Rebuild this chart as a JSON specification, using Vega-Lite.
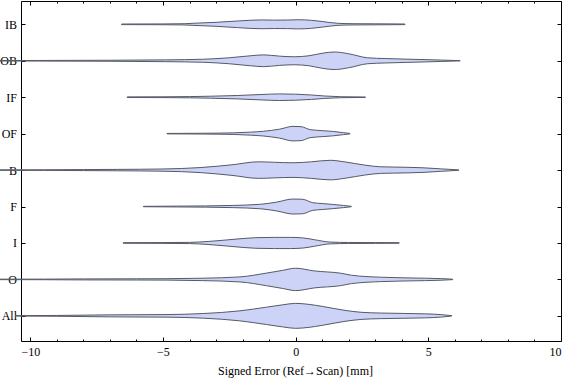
{
  "$schema": "https://vega.github.io/schema/vega-lite/v6.json",
  "width": 540,
  "height": 340,
  "autosize": {"type": "none"},
  "padding": {"left": 21, "top": 1, "right": 15, "bottom": 40},
  "background": "white",
  "config": {"view": {"stroke": null}, "font": "Liberation Serif", "axis": {"grid": false, "domainColor": "black", "tickColor": "black", "labelColor": "black", "titleColor": "black", "labelFont": "Liberation Serif", "titleFont": "Liberation Serif", "labelFontSize": 12, "titleFontSize": 12, "titleFontWeight": "normal", "domainWidth": 1, "tickWidth": 1}},
  "data": {"values": [
    {"g": "IB", "v": -6.56, "w": 0.3}, {"g": "IB", "v": -5.0, "w": 0.4}, {"g": "IB", "v": -4.2, "w": 0.6}, {"g": "IB", "v": -3.9, "w": 1.0}, {"g": "IB", "v": -3.0, "w": 2.0}, {"g": "IB", "v": -2.2, "w": 3.3}, {"g": "IB", "v": -1.3, "w": 4.4}, {"g": "IB", "v": -0.8, "w": 4.2}, {"g": "IB", "v": -0.3, "w": 4.3}, {"g": "IB", "v": 0.1, "w": 4.6}, {"g": "IB", "v": 0.6, "w": 4.0}, {"g": "IB", "v": 1.0, "w": 2.8}, {"g": "IB", "v": 1.6, "w": 1.0}, {"g": "IB", "v": 2.2, "w": 0.6}, {"g": "IB", "v": 3.0, "w": 0.5}, {"g": "IB", "v": 4.12, "w": 0.3},
    {"g": "OB", "v": -12.5, "w": 0.2}, {"g": "OB", "v": -9.7, "w": 0.3}, {"g": "OB", "v": -7.0, "w": 0.5}, {"g": "OB", "v": -4.9, "w": 0.9}, {"g": "OB", "v": -3.5, "w": 1.5}, {"g": "OB", "v": -2.5, "w": 3.0}, {"g": "OB", "v": -1.7, "w": 5.0}, {"g": "OB", "v": -1.2, "w": 5.9}, {"g": "OB", "v": -0.6, "w": 4.6}, {"g": "OB", "v": -0.05, "w": 4.0}, {"g": "OB", "v": 0.5, "w": 5.0}, {"g": "OB", "v": 1.0, "w": 7.5}, {"g": "OB", "v": 1.45, "w": 8.8}, {"g": "OB", "v": 2.0, "w": 7.0}, {"g": "OB", "v": 2.7, "w": 3.0}, {"g": "OB", "v": 3.4, "w": 2.2}, {"g": "OB", "v": 4.2, "w": 1.6}, {"g": "OB", "v": 4.8, "w": 1.2}, {"g": "OB", "v": 5.5, "w": 0.7}, {"g": "OB", "v": 6.2, "w": 0.1},
    {"g": "IF", "v": -6.35, "w": 0.3}, {"g": "IF", "v": -5.0, "w": 0.4}, {"g": "IF", "v": -4.0, "w": 0.6}, {"g": "IF", "v": -3.2, "w": 1.0}, {"g": "IF", "v": -2.2, "w": 1.7}, {"g": "IF", "v": -1.3, "w": 2.7}, {"g": "IF", "v": -0.6, "w": 3.3}, {"g": "IF", "v": 0.0, "w": 3.0}, {"g": "IF", "v": 0.6, "w": 2.2}, {"g": "IF", "v": 1.1, "w": 1.2}, {"g": "IF", "v": 1.7, "w": 0.5}, {"g": "IF", "v": 2.63, "w": 0.2},
    {"g": "OF", "v": -4.85, "w": 0.2}, {"g": "OF", "v": -3.5, "w": 0.4}, {"g": "OF", "v": -2.35, "w": 0.8}, {"g": "OF", "v": -1.7, "w": 1.5}, {"g": "OF", "v": -1.2, "w": 2.4}, {"g": "OF", "v": -0.6, "w": 4.5}, {"g": "OF", "v": -0.1, "w": 7.3}, {"g": "OF", "v": 0.2, "w": 7.0}, {"g": "OF", "v": 0.55, "w": 4.0}, {"g": "OF", "v": 1.0, "w": 3.0}, {"g": "OF", "v": 1.4, "w": 2.2}, {"g": "OF", "v": 1.8, "w": 1.0}, {"g": "OF", "v": 2.05, "w": 0.2},
    {"g": "B", "v": -12.5, "w": 0.2}, {"g": "B", "v": -9.5, "w": 0.3}, {"g": "B", "v": -8.0, "w": 0.5}, {"g": "B", "v": -6.7, "w": 0.7}, {"g": "B", "v": -5.0, "w": 1.1}, {"g": "B", "v": -3.6, "w": 2.5}, {"g": "B", "v": -2.4, "w": 5.3}, {"g": "B", "v": -1.4, "w": 8.3}, {"g": "B", "v": -0.8, "w": 7.8}, {"g": "B", "v": -0.1, "w": 7.3}, {"g": "B", "v": 0.6, "w": 8.3}, {"g": "B", "v": 1.3, "w": 9.8}, {"g": "B", "v": 1.9, "w": 8.0}, {"g": "B", "v": 2.6, "w": 5.0}, {"g": "B", "v": 3.2, "w": 3.3}, {"g": "B", "v": 4.2, "w": 2.8}, {"g": "B", "v": 4.8, "w": 2.3}, {"g": "B", "v": 5.5, "w": 1.2}, {"g": "B", "v": 6.15, "w": 0.2},
    {"g": "F", "v": -5.74, "w": 0.2}, {"g": "F", "v": -4.5, "w": 0.4}, {"g": "F", "v": -3.4, "w": 0.6}, {"g": "F", "v": -2.35, "w": 1.1}, {"g": "F", "v": -1.3, "w": 2.3}, {"g": "F", "v": -0.7, "w": 4.5}, {"g": "F", "v": -0.1, "w": 7.5}, {"g": "F", "v": 0.25, "w": 7.3}, {"g": "F", "v": 0.65, "w": 3.8}, {"g": "F", "v": 1.0, "w": 3.0}, {"g": "F", "v": 1.4, "w": 2.1}, {"g": "F", "v": 1.8, "w": 1.1}, {"g": "F", "v": 2.1, "w": 0.2},
    {"g": "I", "v": -6.5, "w": 0.3}, {"g": "I", "v": -5.0, "w": 0.4}, {"g": "I", "v": -4.0, "w": 0.6}, {"g": "I", "v": -3.3, "w": 1.5}, {"g": "I", "v": -2.4, "w": 3.5}, {"g": "I", "v": -1.5, "w": 5.3}, {"g": "I", "v": -0.8, "w": 5.6}, {"g": "I", "v": -0.2, "w": 5.6}, {"g": "I", "v": 0.3, "w": 5.0}, {"g": "I", "v": 0.7, "w": 3.3}, {"g": "I", "v": 1.3, "w": 0.9}, {"g": "I", "v": 2.0, "w": 0.5}, {"g": "I", "v": 3.0, "w": 0.4}, {"g": "I", "v": 3.9, "w": 0.3},
    {"g": "O", "v": -12.5, "w": 0.2}, {"g": "O", "v": -9.5, "w": 0.3}, {"g": "O", "v": -8.0, "w": 0.5}, {"g": "O", "v": -6.0, "w": 0.6}, {"g": "O", "v": -4.85, "w": 0.7}, {"g": "O", "v": -3.5, "w": 1.2}, {"g": "O", "v": -2.1, "w": 2.5}, {"g": "O", "v": -1.1, "w": 6.3}, {"g": "O", "v": -0.5, "w": 9.0}, {"g": "O", "v": 0.0, "w": 11.2}, {"g": "O", "v": 0.7, "w": 8.5}, {"g": "O", "v": 1.7, "w": 6.2}, {"g": "O", "v": 2.1, "w": 4.2}, {"g": "O", "v": 3.2, "w": 2.2}, {"g": "O", "v": 4.9, "w": 1.2}, {"g": "O", "v": 5.5, "w": 0.8}, {"g": "O", "v": 5.92, "w": 0.2},
    {"g": "All", "v": -10.56, "w": 0.2}, {"g": "All", "v": -9.0, "w": 0.4}, {"g": "All", "v": -7.0, "w": 1.0}, {"g": "All", "v": -4.85, "w": 1.3}, {"g": "All", "v": -3.5, "w": 2.3}, {"g": "All", "v": -2.1, "w": 5.0}, {"g": "All", "v": -1.1, "w": 8.7}, {"g": "All", "v": -0.5, "w": 11.0}, {"g": "All", "v": 0.0, "w": 12.5}, {"g": "All", "v": 0.5, "w": 11.5}, {"g": "All", "v": 1.0, "w": 9.5}, {"g": "All", "v": 1.9, "w": 5.3}, {"g": "All", "v": 2.5, "w": 3.5}, {"g": "All", "v": 3.2, "w": 2.8}, {"g": "All", "v": 4.9, "w": 2.0}, {"g": "All", "v": 5.5, "w": 1.2}, {"g": "All", "v": 5.88, "w": 0.2}
  ]},
  "transform": [
    {"calculate": "indexof(['IB','OB','IF','OF','B','F','I','O','All'], datum.g)", "as": "c"},
    {"calculate": "datum.c - datum.w / 36.46", "as": "lo"},
    {"calculate": "datum.c + datum.w / 36.46", "as": "hi"}
  ],
  "layer": [
    {
      "mark": {"type": "area", "clip": false, "interpolate": "monotone", "fill": "#cdd3f6", "fillOpacity": 1, "stroke": "#555a66", "strokeWidth": 1},
      "encoding": {
        "x": {"field": "v", "type": "quantitative", "scale": {"domain": [-10.35, 10], "nice": false, "zero": false},
              "axis": {"orient": "bottom", "values": [-10, -5, 0, 5, 10], "tickSize": -4, "labelPadding": 9, "labelExpr": "datum.value < 0 ? '−' + abs(datum.value) : '' + datum.value", "title": "Signed Error (Ref→Scan) [mm]", "titlePadding": 8, "titleX": 274, "titleAlign": "center", "titleAnchor": null}},
        "y": {"field": "lo", "type": "quantitative", "scale": {"domain": [-0.64, 8.69], "reverse": true, "nice": false, "zero": false},
              "axis": {"orient": "left", "values": [0, 1, 2, 3, 4, 5, 6, 7, 8], "tickSize": -4, "labelPadding": 8.5, "labelExpr": "['IB','OB','IF','OF','B','F','I','O','All'][datum.value]", "title": null}},
        "y2": {"field": "hi"},
        "detail": {"field": "g"}
      }
    },
    {
      "mark": {"type": "point", "opacity": 0},
      "encoding": {
        "x": {"field": "v", "type": "quantitative", "axis": {"orient": "bottom", "values": [-9, -8, -7, -6, -4, -3, -2, -1, 1, 2, 3, 4, 6, 7, 8, 9], "tickSize": -2, "labels": false, "domain": false, "title": null}},
        "y": {"field": "lo", "type": "quantitative", "axis": {"orient": "right", "values": [0, 1, 2, 3, 4, 5, 6, 7, 8], "tickSize": -4, "labels": false, "title": null}}
      }
    },
    {
      "mark": {"type": "point", "opacity": 0},
      "encoding": {
        "x": {"field": "v", "type": "quantitative", "axis": {"orient": "top", "values": [-10, -5, 0, 5, 10], "tickSize": -4, "labels": false, "title": null}},
        "y": {"field": "lo", "type": "quantitative", "axis": null}
      }
    },
    {
      "mark": {"type": "point", "opacity": 0},
      "encoding": {
        "x": {"field": "v", "type": "quantitative", "axis": {"orient": "top", "values": [-9, -8, -7, -6, -4, -3, -2, -1, 1, 2, 3, 4, 6, 7, 8, 9], "tickSize": -2, "labels": false, "domain": false, "title": null}},
        "y": {"field": "lo", "type": "quantitative", "axis": null}
      }
    }
  ],
  "resolve": {"axis": {"x": "independent", "y": "independent"}}
}
